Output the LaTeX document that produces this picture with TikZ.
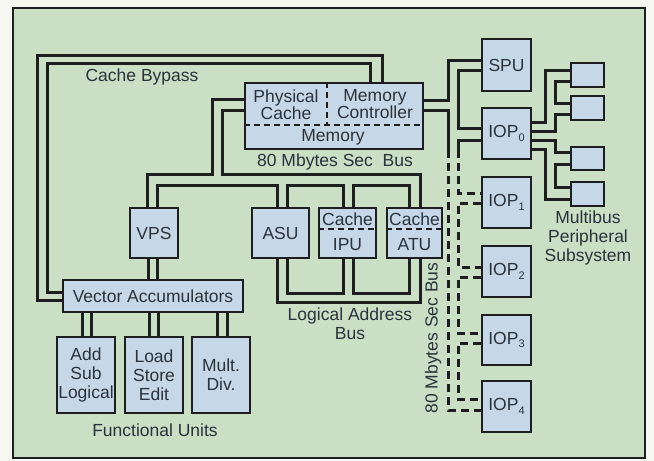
\documentclass[tikz,border=0pt]{standalone}
\usepackage{fontspec}
\setmainfont{Liberation Sans}
\newcommand\figfont{\fontsize{17.5}{18.8}\selectfont}
\newcommand\iopsub[1]{\raisebox{-0.35ex}{\fontsize{11}{11}\selectfont #1}}
\definecolor{bgc}{RGB}{203,223,196}
\definecolor{outc}{RGB}{246,247,241}
\definecolor{boxc}{RGB}{198,216,232}
\definecolor{ink}{RGB}{28,30,32}
\definecolor{txt}{RGB}{42,50,60}
\begin{document}
\begin{tikzpicture}[x=1pt,y=-1pt,
  bus/.style={draw=ink,line width=3pt,line join=miter},
  dbus/.style={bus,dash pattern=on 8pt off 5pt},
  unit/.style={draw=ink,line width=1.8pt,fill=boxc,inner sep=0pt,text=txt,font=\figfont,align=center},
  lbl/.style={text=txt,font=\figfont,align=center,inner sep=0pt},
  split/.style={draw=ink,line width=1.5pt,dash pattern=on 6pt off 4pt}]
\useasboundingbox (0,0) rectangle (654,461);
\fill[outc] (0,0) rectangle (654,461);
\draw[ink,line width=1.8pt,fill=bgc] (13,8) rectangle (645,458);

% units
\node[unit,minimum width=49pt,minimum height=52pt] (spu) at (506.5,65) {SPU};
\node[unit,minimum width=49pt,minimum height=51pt] (iop0) at (506.5,133.5) {IOP\iopsub{0}};
\node[unit,minimum width=49pt,minimum height=51pt] (iop1) at (506.5,202.5) {IOP\iopsub{1}};
\node[unit,minimum width=49pt,minimum height=51pt] (iop2) at (506.5,271.5) {IOP\iopsub{2}};
\node[unit,minimum width=49pt,minimum height=50pt] (iop3) at (506.5,340) {IOP\iopsub{3}};
\node[unit,minimum width=49pt,minimum height=51pt] (iop4) at (506.5,406.5) {IOP\iopsub{4}};
\node[unit,minimum width=33pt,minimum height=24pt] (mb1) at (587.5,75) {};
\node[unit,minimum width=33pt,minimum height=24pt] (mb2) at (587.5,108) {};
\node[unit,minimum width=33pt,minimum height=23pt] (mb3) at (587.5,158.5) {};
\node[unit,minimum width=33pt,minimum height=24pt] (mb4) at (587.5,194) {};
\node[unit,minimum width=178pt,minimum height=66pt] (mem) at (334,116) {};
\node[unit,minimum width=48pt,minimum height=50pt] (vps) at (154,233) {VPS};
\node[unit,minimum width=57pt,minimum height=50pt] (asu) at (280.5,233) {ASU};
\node[unit,minimum width=57pt,minimum height=50pt] (ipu) at (347.5,233) {};
\node[unit,minimum width=55pt,minimum height=50pt] (atu) at (414.5,233) {};
\node[unit,minimum width=180pt,minimum height=32pt] (va) at (153,296) {Vector Accumulators};
\node[unit,minimum width=58pt,minimum height=76pt] (asl) at (86,375) {Add\\Sub\\Logical};
\node[unit,minimum width=58pt,minimum height=76pt] (lse) at (154,375) {Load\\Store\\Edit};
\node[unit,minimum width=58pt,minimum height=76pt] (md) at (221,375) {Mult.\\Div.};

% inner divisions and labels
\draw[split] (mem.north -| 327,0) -- (327,125);
\draw[split] (mem.west |- 0,125) -- (mem.east |- 0,125);
\draw[split] (ipu.west |- 0,229) -- (ipu.east |- 0,229);
\draw[split] (atu.west |- 0,229) -- (atu.east |- 0,229);
\node[lbl] (pc) at (286,105) {Physical\\[-2pt]Cache};
\node[lbl] (mc) at (375,104) {Memory\\[-2pt]Controller};
\node[lbl] (mm) at (333,137) {Memory};
\node[lbl] (ipuc) at (347.5,219) {Cache};
\node[lbl] (ipul) at (347.5,245) {IPU};
\node[lbl] (atuc) at (414.5,219) {Cache};
\node[lbl] (atul) at (414.5,245) {ATU};

% free labels
\node[lbl] (cb) at (142,77) {Cache Bypass};
\node[lbl] (msb) at (335,162) {80 Mbytes Sec\ \ Bus};
\node[lbl] (lab) at (350,324) {Logical Address\\Bus};
\node[lbl] (fu) at (155,430) {Functional Units};
\node[lbl] (mps) at (588,238) {Multibus\\Peripheral\\Subsystem};
\node[lbl,rotate=90] (vsb) at (433,338) {80 Mbytes Sec Bus};

% cache bypass
\draw[bus] (va.west |- 0,300) -- (37,300) -- (37,55) -- (382,55) -- (mem.north -| 382,0);
\draw[bus] (va.west |- 0,292) -- (47,292) -- (47,63) -- (370,63) -- (mem.north -| 370,0);

% 80 Mbytes sec bus to processors
\draw[bus] (mem.west |- 0,99) -- (212,99) -- (212,174) -- (147,174) -- (vps.north -| 147,0);
\draw[bus] (mem.west |- 0,110) -- (222,110) -- (222,174) -- (420,174) -- (atu.north -| 420,0);
\draw[bus] (vps.north -| 157,0) -- (157,185) -- (277,185) -- (asu.north -| 277,0);
\draw[bus] (asu.north -| 287,0) -- (287,185) -- (343,185) -- (ipu.north -| 343,0);
\draw[bus] (ipu.north -| 353,0) -- (353,185) -- (409,185) -- (atu.north -| 409,0);

% logical address bus
\draw[bus] (asu.south -| 277,0) -- (277,302) -- (420,302) -- (atu.south -| 420,0);
\draw[bus] (asu.south -| 287,0) -- (287,293) -- (343,293) -- (ipu.south -| 343,0);
\draw[bus] (ipu.south -| 353,0) -- (353,293) -- (409,293) -- (atu.south -| 409,0);

% VPS to vector accumulators, and functional units
\foreach \x in {148,157} \draw[bus] (vps.south -| \x,0) -- (va.north -| \x,0);
\foreach \x in {82,91} \draw[bus] (va.south -| \x,0) -- (asl.north -| \x,0);
\foreach \x in {149,158} \draw[bus] (va.south -| \x,0) -- (lse.north -| \x,0);
\foreach \x in {217,227} \draw[bus] (va.south -| \x,0) -- (md.north -| \x,0);

% memory to SPU / IOPs
\draw[bus] (mem.east |- 0,100) -- (448,100) -- (448,60) -- (spu.west |- 0,60);
\draw[bus] (spu.west |- 0,70) -- (458,70) -- (458,128) -- (iop0.west |- 0,128);
\draw[bus] (mem.east |- 0,110) -- (448,110) -- (448,150) coordinate (dA);
\draw[dbus] (dA) -- (448,410) -- (iop4.west |- 0,410);
\draw[bus] (iop0.west |- 0,140) -- (458,140) -- (458,150) coordinate (dB);
\draw[dbus] (dB) -- (458,193) -- (iop1.west |- 0,193);
\draw[dbus] (iop1.west |- 0,203) -- (458,203) -- (458,267) -- (iop2.west |- 0,267);
\draw[dbus] (iop2.west |- 0,277) -- (458,277) -- (458,333) -- (iop3.west |- 0,333);
\draw[dbus] (iop3.west |- 0,343) -- (458,343) -- (458,399) -- (iop4.west |- 0,399);

% multibus
\draw[bus] (iop0.east |- 0,122) -- (545,122) -- (545,70) -- (mb1.west |- 0,70);
\draw[bus] (mb1.west |- 0,81) -- (555,81) -- (555,103) -- (mb2.west |- 0,103);
\draw[bus] (iop0.east |- 0,131) -- (555,131) -- (555,114) -- (mb2.west |- 0,114);
\draw[bus] (iop0.east |- 0,140) -- (555,140) -- (555,152) -- (mb3.west |- 0,152);
\draw[bus] (mb3.west |- 0,164) -- (555,164) -- (555,187) -- (mb4.west |- 0,187);
\draw[bus] (iop0.east |- 0,149) -- (545,149) -- (545,199) -- (mb4.west |- 0,199);
\end{tikzpicture}
\end{document}
